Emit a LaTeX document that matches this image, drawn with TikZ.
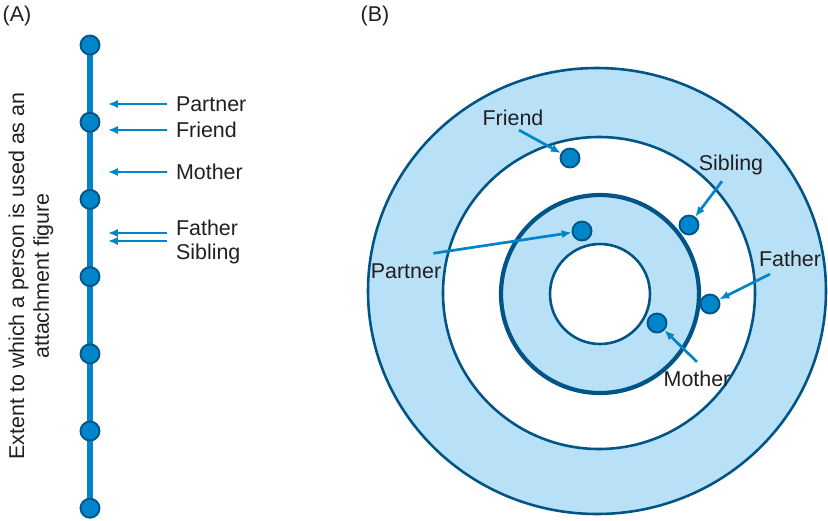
\documentclass[tikz,border=0pt]{standalone}
\usepackage{fontspec}
\setmainfont{Liberation Sans}
\usetikzlibrary{arrows.meta,positioning,calc,backgrounds}

\definecolor{linkblue}{RGB}{0,133,202}
\definecolor{edgeblue}{RGB}{0,84,134}
\definecolor{ringblue}{RGB}{184,224,246}
\definecolor{inkgray}{RGB}{35,31,32}

\tikzset{
  dot/.style={circle,fill=linkblue,draw=edgeblue,line width=1.6pt,minimum size=0.57cm,inner sep=0pt},
  lbl/.style={text=inkgray,font=\fontsize{18.3}{21}\selectfont,inner sep=0pt},
  pointer/.style={-{Latex[length=8.5pt,width=7pt]},linkblue,line width=2.3pt},
  ring/.style={draw=edgeblue,line width=2.2pt}
}

\begin{document}
\begin{tikzpicture}[x=0.03cm,y=-0.03cm]
  \useasboundingbox (0,0) rectangle (828,520);

  % panel labels
  \node[lbl] (pa) at (17,16) {(A)};
  \node[lbl] (pb) at (375,16) {(B)};

  % (A) scale of attachment
  \foreach \i in {0,...,6}
    \node[dot] (a\i) at (90,{45+77.2*\i}) {};
  \begin{scope}[on background layer]
    \draw[linkblue,line width=5pt] (a0.center) -- (a6.center);
  \end{scope}

  \node[lbl,rotate=90,align=center] (ylab) at (31,276)
    {Extent to which a person is used as an\\attachment figure};

  \coordinate (tipx) at (108,0);
  \node[lbl,anchor=west,inner xsep=7.5pt] (partA) at (167,104) {Partner};
  \node[lbl,anchor=west,inner xsep=7.5pt] (friendA) at (167,130) {Friend};
  \node[lbl,anchor=west,inner xsep=7.5pt] (motherA) at (167,172) {Mother};
  \node[lbl,anchor=west,inner xsep=7.5pt] (fatherA) at (167,228) {Father};
  \node[lbl,anchor=west,inner xsep=7.5pt] (sibA) at (167,254) {Sibling};
  \draw[pointer] (partA.west) -- (partA.west -| tipx);
  \draw[pointer] (friendA.west) -- (friendA.west -| tipx);
  \draw[pointer] (motherA.west) -- (motherA.west -| tipx);
  \draw[pointer] ($(fatherA.west)+(0,5)$) -- ($(fatherA.west -| tipx)+(0,5)$);
  \draw[pointer] ($(sibA.west)+(0,-13)$) -- ($(sibA.west -| tipx)+(0,-13)$);

  % (B) concentric rings
  \coordinate (o) at (597,291);
  \coordinate (oi) at (600,294);
  \draw[ring,fill=ringblue] (o) circle[x radius=229,y radius=223];
  \draw[ring,fill=white] (599,293) circle[radius=156];
  \draw[ring,line width=3.6pt,fill=ringblue] (oi) circle[radius=99];
  \draw[ring,fill=white] (oi) circle[radius=50];

  \node[dot] (friendB) at (570,158) {};
  \node[dot] (partB) at (582,231) {};
  \node[dot] (sibB) at (689,225) {};
  \node[dot] (fatherB) at (710,304) {};
  \node[dot] (motherB) at (657,323) {};

  \node[lbl] (friendL) at (513,118) {Friend};
  \node[lbl] (partL) at (406,271) {Partner};
  \node[lbl] (sibL) at (731,165) {Sibling};
  \node[lbl] (fatherL) at (790,259) {Father};
  \node[lbl] (motherL) at (697,379) {Mother};

  \draw[pointer] ($(friendL.south)+(6,4)$) -- (friendB);
  \draw[pointer] ($(partL.north east)+(-8,-10)$) -- (partB);
  \draw[pointer] ($(sibL.south)+(-9,6)$) -- (sibB);
  \draw[pointer] ($(fatherL.south)+(-20,7)$) -- (fatherB);
  \draw[pointer] ($(motherL.north)+(0,-9)$) -- (motherB);
\end{tikzpicture}
\end{document}
